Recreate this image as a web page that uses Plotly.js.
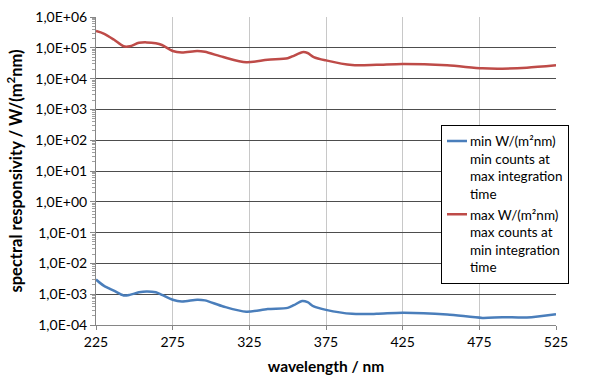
<!DOCTYPE html>
<html>
<head>
<meta charset="utf-8">
<script src="https://cdn.plot.ly/plotly-3.0.1.min.js"></script>
<style>html,body{margin:0;padding:0;background:#fff;}#chart{width:600px;height:380px;}</style>
</head>
<body>
<div id="chart"></div>
<script>
// wavelength sample points (nm)
const wavelengths = [225, 230, 236.6, 243, 247, 253, 258, 264, 268, 275, 281, 291, 296, 308, 323, 337, 350, 354, 359.5, 363, 367, 375, 392, 408, 425, 454, 477, 490, 506, 525];
// max W/(m²nm)
const maxValues = [3.5e5, 2.9e5, 1.85e5, 1.12e5, 1.12e5, 1.45e5, 1.5e5, 1.4e5, 1.23e5, 7.9e4, 7.1e4, 7.9e4, 7.4e4, 5.0e4, 3.4e4, 4.1e4, 4.6e4, 5.5e4, 7.2e4, 6.8e4, 5.0e4, 3.9e4, 2.75e4, 2.8e4, 3.0e4, 2.7e4, 2.15e4, 2.1e4, 2.25e4, 2.7e4];
// min W/(m²nm)
const minValues = [3.0e-3, 1.9e-3, 1.3e-3, 9.1e-4, 9.5e-4, 1.15e-3, 1.23e-3, 1.15e-3, 9.5e-4, 6.6e-4, 5.8e-4, 6.6e-4, 6.3e-4, 4.0e-4, 2.7e-4, 3.3e-4, 3.6e-4, 4.4e-4, 6.0e-4, 5.5e-4, 4.0e-4, 3.1e-4, 2.3e-4, 2.3e-4, 2.5e-4, 2.2e-4, 1.7e-4, 1.8e-4, 1.75e-4, 2.25e-4];

const xTicks = [225, 275, 325, 375, 425, 475, 525];
const yTickVals = [1e-4, 1e-3, 1e-2, 1e-1, 1e0, 1e1, 1e2, 1e3, 1e4, 1e5, 1e6];
const yTickText = ["1,0E-04", "1,0E-03", "1,0E-02", "1,0E-01", "1,0E+00", "1,0E+01", "1,0E+02", "1,0E+03", "1,0E+04", "1,0E+05", "1,0E+06"];
const seriesNames = ["min W/(m²nm)<br>min counts at<br>max integration<br>time", "max W/(m²nm)<br>max counts at<br>min integration<br>time"];

const FONT = "Lato, 'Open Sans', sans-serif";

const traces = [
  {x: wavelengths, y: minValues, name: seriesNames[0], mode: 'lines',
   line: {color: '#4A7EBB', width: 2.5, shape: 'spline', smoothing: 0.8}},
  {x: wavelengths, y: maxValues, name: seriesNames[1], mode: 'lines',
   line: {color: '#BE4B48', width: 2.5, shape: 'spline', smoothing: 0.8}}
];

const layout = {
  width: 600, height: 380,
  margin: {l: 96, r: 44, t: 17, b: 55},
  paper_bgcolor: '#fff', plot_bgcolor: '#fff',
  font: {family: FONT, size: 14, color: '#000'},
  showlegend: true,
  legend: {x: 0.75, y: 0.65, xanchor: 'left', yanchor: 'top', valign: 'top',
    bgcolor: '#fff', bordercolor: '#000', borderwidth: 1,
    font: {family: FONT, size: 13.5, color: '#000'}, itemwidth: 30, tracegroupgap: 3},
  xaxis: {
    range: [225, 525], tickmode: 'array', tickvals: xTicks,
    showgrid: true, gridcolor: '#C8C8C8', gridwidth: 1,
    showline: true, linecolor: '#868686', linewidth: 1,
    ticks: 'outside', ticklen: 4, tickcolor: '#868686',
    zeroline: false, tickfont: {family: FONT, size: 14},
    title: {text: '<b>wavelength / nm</b>', font: {family: FONT, size: 15.5}, standoff: 12}
  },
  yaxis: {
    type: 'log', range: [-4, 6], tickmode: 'array', tickvals: yTickVals, ticktext: yTickText,
    showgrid: true, gridcolor: '#4d4d4d', gridwidth: 1,
    showline: true, linecolor: '#868686', linewidth: 1,
    ticks: 'outside', ticklen: 5, tickcolor: '#868686',
    minor: {ticks: 'outside', ticklen: 3, tickcolor: '#A0A0A0', dtick: 'D1', showgrid: false},
    zeroline: false, tickfont: {family: FONT, size: 14},
    title: {text: '<b>spectral responsivity / W/(m<sup>2</sup>nm)</b>', font: {family: FONT, size: 16.5}, standoff: 8}
  }
};

const gd = document.getElementById('chart');
Plotly.newPlot(gd, traces, layout, {staticPlot: true, displayModeBar: false}).then(function () {
  // shorten legend line samples like the original (short stroke before the text)
  const shift = 12;
  gd.querySelectorAll('.legend .legendlines path').forEach(function (p) { p.setAttribute('d', 'M5,0h20'); });
  gd.querySelectorAll('.legend .legendtext').forEach(function (t) {
    const x = parseFloat(t.getAttribute('x')) - shift;
    t.setAttribute('x', x);
    t.querySelectorAll('tspan.line').forEach(function (s) { s.setAttribute('x', x); });
  });
  const bg = gd.querySelector('.legend .bg');
  if (bg) bg.setAttribute('width', parseFloat(bg.getAttribute('width')) - shift);
});
</script>
</body>
</html>
